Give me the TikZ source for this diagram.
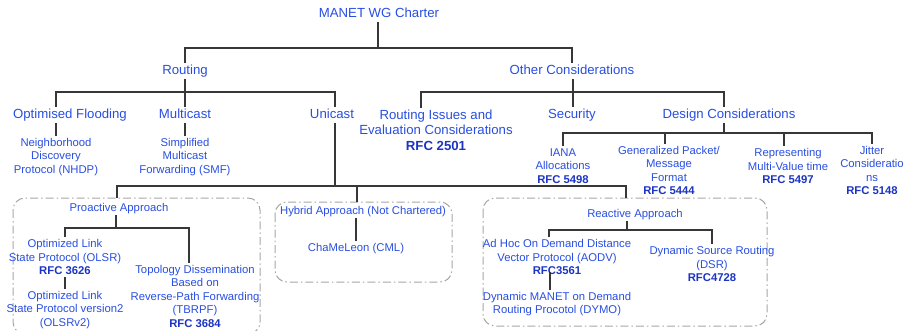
\documentclass[tikz,border=0pt]{standalone}
\usepackage{fontspec}
\setmainfont{Liberation Sans}
\usepackage{tikz}

\definecolor{wgblue}{RGB}{40,78,225}
\definecolor{rfcblue}{RGB}{28,52,195}
\definecolor{treeline}{RGB}{55,55,55}
\newcommand{\toplev}{\fontsize{13.2}{15.4}\selectfont}
\newcommand{\sublev}{\fontsize{11.3}{13.5}\selectfont}
\newcommand{\rfc}[1]{{\bfseries\color{rfcblue}#1}}

\tikzset{
	head/.style={text=wgblue, font=\toplev, inner sep=2pt, text height=9.5pt, text depth=2.5pt},
	headm/.style={text=wgblue, font=\toplev, inner sep=2pt, align=center},
	leaf/.style={text=wgblue, font=\sublev, inner sep=2pt, align=center},
	leafs/.style={text=wgblue, font=\sublev, inner sep=2pt, text height=8pt, text depth=2pt},
	grpbox/.style={draw=gray!70, line width=1pt, dash pattern=on 8pt off 3pt on 1.5pt off 3pt, rounded corners=12pt},
	branch/.style={draw=treeline, line width=1.8pt}
}

\begin{document}
\begin{tikzpicture}[x=1pt, y=-1pt]
	\useasboundingbox (0,0) rectangle (907,330);
%		\draw[help lines] (0,0) grid (907,330);

	% groups
	\draw[grpbox] (13,198) rectangle (260,334);
	\draw[grpbox] (275,202) rectangle (452,282);
	\draw[grpbox] (483,198) rectangle (767,326);
	\coordinate (probox) at (117,198);
	\coordinate (hybbox) at (357,202);
	\coordinate (reabox) at (626,198);

	% first levels
	\node[head] (charter) at (379,14) {MANET WG Charter};
	\node[head] (routing) at (185,71) {Routing};
	\node[head] (other) at (572,71) {Other Considerations};

	\node[head] (flood) at (70,115) {Optimised Flooding};
	\node[head] (multi) at (185,115) {Multicast};
	\node[head] (uni) at (332,115) {Unicast};
	\node[headm] (issues) at (436,130) {Routing Issues and\\Evaluation Considerations\\\rfc{RFC 2501}};
	\node[head] (security) at (572,115) {Security};
	\node[head] (design) at (729,115) {Design Considerations};

	\node[leaf] (nhdp) at (56,157) {Neighborhood\\Discovery\\Protocol (NHDP)};
	\node[leaf] (smf) at (185,157) {Simplified\\Multicast\\Forwarding (SMF)};
	\node[leaf] (iana) at (563,166) {IANA\\Allocations\\\rfc{RFC 5498}};
	\node[leaf] (packet) at (669,170.5) {Generalized Packet/\\Message\\Format\\\rfc{RFC 5444}};
	\node[leaf] (multival) at (788,166) {Representing\\Multi-Value time\\\rfc{RFC 5497}};
	\node[leaf] (jitter) at (872,170.5) {Jitter\\Consideratio\\ns\\\rfc{RFC 5148}};

	% unicast approaches
	\node[leafs] (pro) at (119,208) {Proactive Approach};
	\node[leaf] (olsr) at (65,257) {Optimized Link\\State Protocol (OLSR)\\\rfc{RFC 3626}};
	\node[leaf] (olsrtwo) at (65,310) {Optimized Link\\State Protocol version2\\(OLSRv2)};
	\node[leaf] (tbrpf) at (195,296) {Topology Dissemination\\Based on\\Reverse-Path Forwarding\\(TBRPF)\\\rfc{RFC 3684}};

	\node[leafs] (hybrid) at (363,211) {Hybrid Approach (Not Chartered)};
	\node[leafs] (cml) at (356,248) {ChaMeLeon (CML)};

	\node[leafs] (react) at (635,214) {Reactive Approach};
	\node[leaf] (aodv) at (557,257) {Ad Hoc On Demand Distance\\Vector Protocol (AODV)\\\rfc{RFC3561}};
	\node[leaf] (dymo) at (557,304) {Dynamic MANET on Demand\\Routing Procotol (DYMO)};
	\node[leaf] (dsr) at (712,264) {Dynamic Source Routing\\(DSR)\\\rfc{RFC4728}};

	% bars
	\coordinate (bcharter) at (378,48);
	\coordinate (brouting) at (185,92);
	\coordinate (bother) at (573,92);
	\coordinate (bdesign) at (724,133);
	\coordinate (buni) at (335,186);
	\coordinate (bpro) at (116,228);
	\coordinate (breact) at (627,230);

	\draw[branch] (charter.south -| bcharter) -- (bcharter);
	\draw[branch] (routing.north) |- (bcharter) -| (other.north);

	\draw[branch] (routing.south) -- (multi.north);
	\draw[branch] (nhdp |- flood.north) |- (brouting) -| (buni |- uni.north);
	\draw[branch] (nhdp |- flood.south) -- (nhdp.north);
	\draw[branch] (multi.south) -- (smf.north);

	\draw[branch] (other.south -| bother) -- (security.north -| bother);
	\draw[branch] ([xshift=-15pt]issues.north) |- (bother) -| ([xshift=-5pt]design.north);
	\draw[branch] (design.south -| bdesign) -- (bdesign);
	\draw[branch] (iana.north) |- (bdesign) -| (jitter.north);
	\draw[branch] (packet.north -| 665,0) -- (665,133);
	\draw[branch] (multival.north -| 784,0) -- (784,133);

	\draw[branch] (uni.south -| buni) -- (buni);
	\draw[branch] (probox) |- (buni) -| (reabox);
	\draw[branch] (hybbox) -- (hybbox |- buni);

	\draw[branch] (pro.south -| bpro) -- (bpro);
	\draw[branch] (olsr.north) |- (bpro) -| ([xshift=-6pt]tbrpf.north);
	\draw[branch] (olsr.south) -- (olsrtwo.north);

	\draw[branch] (cml |- hybrid.south) -- (cml.north);

	\draw[branch] (react.south -| breact) -- (breact);
	\draw[branch] ([xshift=-8pt]aodv.north) |- (breact) -| (dsr.north);
	\draw[branch] ([xshift=-7pt,yshift=5pt]aodv.south) -- ([xshift=-7pt]dymo.north);
\end{tikzpicture}
\end{document}
